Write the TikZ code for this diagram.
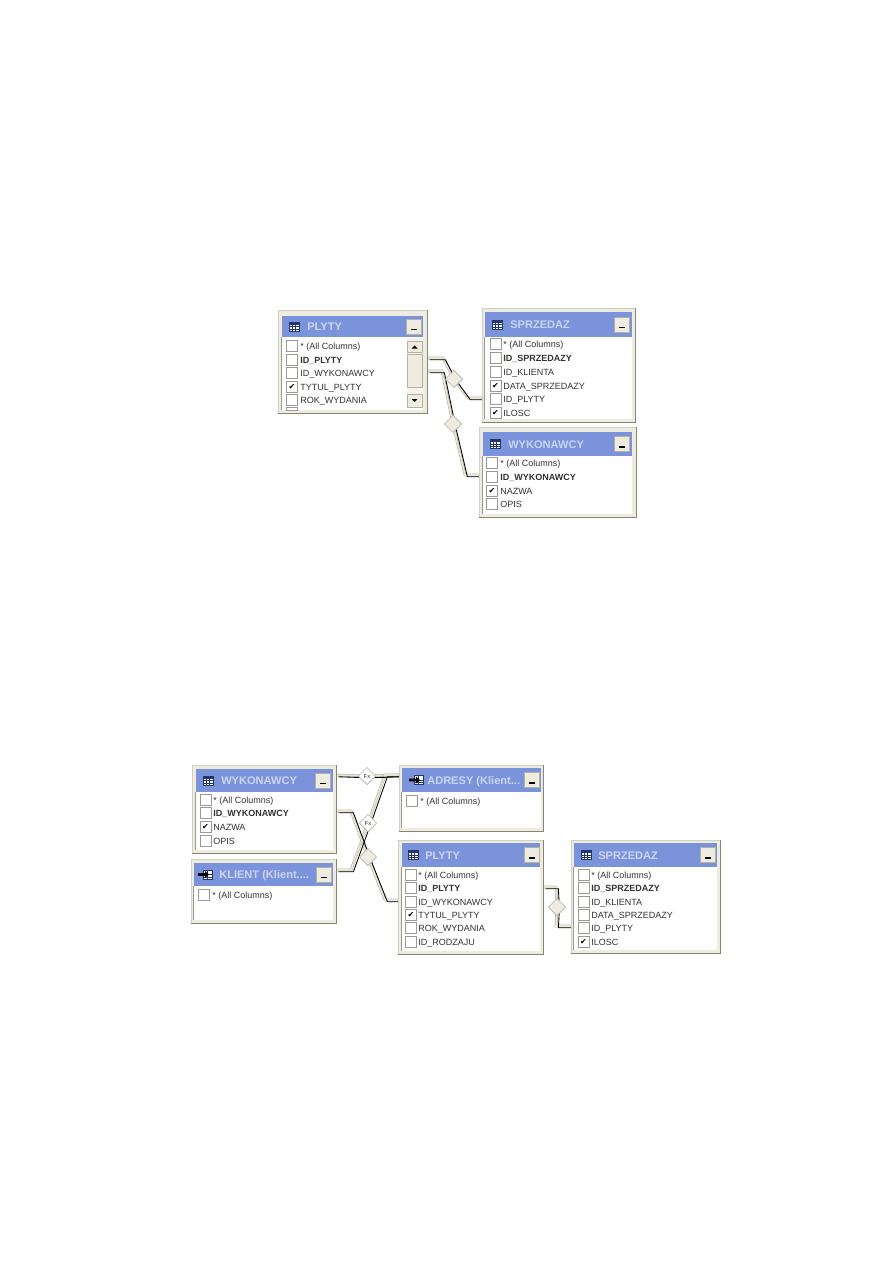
\documentclass[tikz,border=0pt]{standalone}
\usepackage{fontspec}
\setmainfont{Liberation Sans}
\newfontfamily\symfont{DejaVu Sans}
\usetikzlibrary{backgrounds,calc,fit,shapes.geometric}
\definecolor{bandblue}{HTML}{7B93DB}
\definecolor{titletext}{HTML}{CBD5F2}
\definecolor{framefill}{HTML}{EEECE0}
\definecolor{framedraw}{HTML}{D2D0C2}
\definecolor{frameedge}{HTML}{86856F}
\definecolor{boxdraw}{HTML}{9A9A92}
\definecolor{relfill}{HTML}{E8E5D6}
\definecolor{reledge}{HTML}{B4B1A2}
\definecolor{icondraw}{HTML}{24346E}
\newcommand{\tick}{{\symfont\fontsize{6}{7}\selectfont ✔}}
\tikzset{
  tableframe/.style={draw=framedraw, fill=framefill, line width=0.5pt, inner sep=0pt},
  tableedge/.style={draw=frameedge, line width=0.8pt},
  tablelist/.style={fill=white, inner sep=0pt},
  listedge/.style={draw=boxdraw, line width=0.5pt},
  tableband/.style={fill=bandblue, inner sep=0pt},
  tabletitle/.style={anchor=west, inner sep=0pt, text height=6pt, text depth=0pt, text=titletext, font=\fontsize{8.3}{10}\selectfont\bfseries},
  minbtn/.style={
    draw=reledge, fill=framefill, minimum size=11pt, inner sep=0pt, line width=0.5pt,
    path picture={\draw[black, line width=1.1pt] ($(path picture bounding box.center)+(-3,3)$) -- +(6,0);},
  },
  checkbox/.style={draw=boxdraw, fill=white, line width=0.5pt, minimum size=8pt, inner sep=0pt},
  collabel/.style={anchor=west, inner sep=0pt, text height=5pt, text depth=0.5pt, text=black!80, font=\fontsize{6.75}{8}\selectfont},
  keylabel/.style={collabel, font=\fontsize{6.75}{8}\selectfont\bfseries},
  relback/.style={draw=reledge, double=relfill, double distance=1.2pt, line width=0.4pt},
  relfront/.style={draw=black, line width=0.65pt, transform canvas={shift={(2.4,1.8)}}},
  reldiamond/.style={diamond, draw=reledge, fill=framefill, line width=0.5pt, minimum size=13pt, inner sep=0pt},
  fxdiamond/.style={reldiamond, fill=white, text=black!80, font=\fontsize{4.4}{5}\selectfont},
  scrollbtn/.style={draw=reledge, fill=framefill, line width=0.4pt, inner sep=0pt, minimum width=11pt},
  gridicon/.pic={
    \draw[icondraw, fill=white, line width=0.5pt] (-5,-4.5) rectangle (5,4.5);
    \fill[icondraw] (-5,-4.5) rectangle (5,-2);
    \draw[icondraw, line width=0.4pt] (-5,0) -- (5,0) (-5,2.3) -- (5,2.3) (-1.7,-2) -- (-1.7,4.5) (1.7,-2) -- (1.7,4.5);
  },
  viewicon/.pic={
    \draw[icondraw, fill=white, line width=0.5pt] (-3,-4.5) rectangle (6,4.5);
    \draw[icondraw, line width=0.4pt] (-3,0) -- (6,0) (-3,2.3) -- (6,2.3) (1.5,-4.5) -- (1.5,4.5);
    \fill[black] (-8,-1.3) -- (-1,-1.3) -- (-1,-3.5) -- (3,0) -- (-1,3.5) -- (-1,1.3) -- (-8,1.3) -- cycle;
  },
}

\begin{document}
\begin{tikzpicture}[x=0.75pt, y=-0.75pt, line cap=butt, line join=miter]
  \useasboundingbox (0,0) rectangle (893,1263);

  % table windows
  \foreach \tname/\xa/\ya/\xb/\yb/\bxa/\bya/\bxb/\byb/\ttlx/\ttl/\icx/\icon/\btnx in {
    plyta/278/310/427/413/282/316/423/337/307/PLYTY/294/gridicon/414,
    sprzedaz/482/308/635/422/485/312/632/337/510/SPRZEDAZ/497/gridicon/622,
    wykonawca/479/427/636/517/483/432/632/456/508/WYKONAWCY/495/gridicon/622,
    wykonawcb/192/765/336/853/196/769/333/792/221/WYKONAWCY/208/gridicon/323,
    klient/191/859/336/923/194/863/333/886/219/{KLIENT (Klient....}/206/viewicon/324,
    adresy/399/765/543/831/402/768/541/792/427/{ADRESY (Klient...}/417/viewicon/532,
    plytb/398/840/543/954/402/843/540/867/425/PLYTY/413/gridicon/532,
    sprzedab/571/840/720/953/574/843/717/867/598/SPRZEDAZ/586/gridicon/708} {
    \node[tableframe, fit={(\xa,\ya)(\xb,\yb)}] (\tname) {};
    \draw[tableedge] (\tname.south west) -- (\tname.south east) -- (\tname.north east);
    \node[tablelist, fit={(\bxa,\byb)(\bxb,\yb-3)}] (\tname-list) {};
    \draw[listedge] (\tname-list.south west) -- (\tname-list.north west);
    \node[tableband, fit={(\bxa,\bya)(\bxb,\byb)}] (\tname-band) {};
    \node[tabletitle] (\tname-title) at (\ttlx,{(\bya+\byb)/2}) {\ttl};
    \pic at (\icx,{(\bya+\byb)/2}) {\icon};
    \node[minbtn] (\tname-btn) at (\btnx,{(\bya+\byb)/2}) {};
  }

  % columns of each table
  \foreach \rowy/\rowtext/\rowstyle/\rowmark [count=\i] in {
    346/{* (All Columns)}/collabel/\relax, 360/{ID\_PLYTY}/keylabel/\relax,
    373/{ID\_WYKONAWCY}/collabel/\relax, 387/{TYTUL\_PLYTY}/collabel/\tick,
    400/{ROK\_WYDANIA}/collabel/\relax} {
    \node[checkbox] (plyta-box-\i) at (292,\rowy) {\rowmark};
    \node[\rowstyle] (plyta-col-\i) at (300,\rowy) {\rowtext};
  }
  \node[checkbox, minimum height=2pt] (plyta-box-6) at (292,409) {};
  \foreach \rowy/\rowtext/\rowstyle/\rowmark [count=\i] in {
    344/{* (All Columns)}/collabel/\relax, 358/{ID\_SPRZEDAZY}/keylabel/\relax,
    372/{ID\_KLIENTA}/collabel/\relax, 386/{DATA\_SPRZEDAZY}/collabel/\tick,
    399/{ID\_PLYTY}/collabel/\relax, 413/{ILOSC}/collabel/\tick} {
    \node[checkbox] (sprzedaz-box-\i) at (495.5,\rowy) {\rowmark};
    \node[\rowstyle] (sprzedaz-col-\i) at (503,\rowy) {\rowtext};
  }
  \foreach \rowy/\rowtext/\rowstyle/\rowmark [count=\i] in {
    463/{* (All Columns)}/collabel/\relax, 477/{ID\_WYKONAWCY}/keylabel/\relax,
    491/{NAZWA}/collabel/\tick, 504/{OPIS}/collabel/\relax} {
    \node[checkbox] (wykonawca-box-\i) at (492,\rowy) {\rowmark};
    \node[\rowstyle] (wykonawca-col-\i) at (500,\rowy) {\rowtext};
  }
  \foreach \rowy/\rowtext/\rowstyle/\rowmark [count=\i] in {
    800/{* (All Columns)}/collabel/\relax, 813/{ID\_WYKONAWCY}/keylabel/\relax,
    827/{NAZWA}/collabel/\tick, 841/{OPIS}/collabel/\relax} {
    \node[checkbox] (wykonawcb-box-\i) at (205.5,\rowy) {\rowmark};
    \node[\rowstyle] (wykonawcb-col-\i) at (213,\rowy) {\rowtext};
  }
  \node[checkbox] (klient-box-1) at (204,895) {};
  \node[collabel] (klient-col-1) at (212,895) {* (All Columns)};
  \node[checkbox] (adresy-box-1) at (412,801) {};
  \node[collabel] (adresy-col-1) at (420,801) {* (All Columns)};
  \foreach \rowy/\rowtext/\rowstyle/\rowmark [count=\i] in {
    875/{* (All Columns)}/collabel/\relax, 888/{ID\_PLYTY}/keylabel/\relax,
    902/{ID\_WYKONAWCY}/collabel/\relax, 915/{TYTUL\_PLYTY}/collabel/\tick,
    928/{ROK\_WYDANIA}/collabel/\relax, 942/{ID\_RODZAJU}/collabel/\relax} {
    \node[checkbox] (plytb-box-\i) at (411,\rowy) {\rowmark};
    \node[\rowstyle] (plytb-col-\i) at (418,\rowy) {\rowtext};
  }
  \foreach \rowy/\rowtext/\rowstyle/\rowmark [count=\i] in {
    875/{* (All Columns)}/collabel/\relax, 888/{ID\_SPRZEDAZY}/keylabel/\relax,
    902/{ID\_KLIENTA}/collabel/\relax, 915/{DATA\_SPRZEDAZY}/collabel/\relax,
    928/{ID\_PLYTY}/collabel/\relax, 942/{ILOSC}/collabel/\tick} {
    \node[checkbox] (sprzedab-box-\i) at (583.5,\rowy) {\rowmark};
    \node[\rowstyle] (sprzedab-col-\i) at (591,\rowy) {\rowtext};
  }

  % scroll bar of the first table
  \node[scrollbtn, draw=none, fill=framefill!60, fit={(407,338)(422,408)}] (scrolltrack) {};
  \node[scrollbtn, minimum height=8.5pt] (scrollup) at (414.5,347) {};
  \node[scrollbtn, minimum height=25pt] (scrollthumb) at (414.5,371) {};
  \node[scrollbtn, minimum height=9.5pt] (scrolldown) at (414.5,400.5) {};
  \fill[black] ($(scrollup.center)+(-3,1.5)$) -- ++(6,0) -- ++(-3,-3) -- cycle;
  \fill[black] ($(scrolldown.center)+(-3,-1.5)$) -- ++(6,0) -- ++(-3,3) -- cycle;

  % diamonds of the relations
  \node[reldiamond] (rel-sprzedaz) at (454,379) {};
  \node[reldiamond] (rel-wykonawca) at (453,424) {};
  \node[fxdiamond] (rel-adresy) at (367,776) {Fx};
  \node[fxdiamond] (rel-klient) at (368,823) {Fx};
  \node[reldiamond] (rel-plyty) at (368,857) {};
  \node[reldiamond] (rel-sprzedab) at (557,907) {};

  % free ends and bends
  \coordinate (a1) at (plyta.east |- 0,358);
  \coordinate (a2) at (443,358);
  \coordinate (a3) at (468,398);
  \coordinate (a4) at (sprzedaz.west |- 0,398);
  \coordinate (b1) at (plyta.east |- 0,371);
  \coordinate (b2) at (442,371);
  \coordinate (b3) at (465,475);
  \coordinate (b4) at (wykonawca.west |- 0,475);
  \coordinate (c1) at (wykonawcb.east |- 0,775);
  \coordinate (c4) at (adresy.west |- 0,775);
  \coordinate (d1) at (klient.east |- 0,870);
  \coordinate (d2) at (351,870);
  \coordinate (d3) at (385,775);
  \coordinate (e1) at (wykonawcb.east |- 0,811);
  \coordinate (e2) at (351,811);
  \coordinate (e3) at (385,900);
  \coordinate (e4) at (plytb.west |- 0,900);
  \coordinate (f1) at (plytb.east |- 0,887);
  \coordinate (f2) at (556,887);
  \coordinate (f3) at (556,926);
  \coordinate (f4) at (sprzedab.west |- 0,926);

  \begin{scope}[on background layer]
    \foreach \pathstyle in {relback, relfront} {
      \draw[\pathstyle] (a1) -- (a2) -- (rel-sprzedaz.center) -- (a3) -- (a4);
      \draw[\pathstyle] (b1) -- (b2) -- (rel-wykonawca.center) -- (b3) -- (b4);
      \draw[\pathstyle] (c1) -- (rel-adresy.center) -- (c4);
      \draw[\pathstyle] (d1) -- (d2) -- (rel-klient.center) -- (d3) -- (c4);
      \draw[\pathstyle] (e1) -- (e2) -- (rel-plyty.center) -- (e3) -- (e4);
      \draw[\pathstyle] (f1) -- (f2) -- (rel-sprzedab.center) -- (f3) -- (f4);
    }
  \end{scope}
\end{tikzpicture}
\end{document}
